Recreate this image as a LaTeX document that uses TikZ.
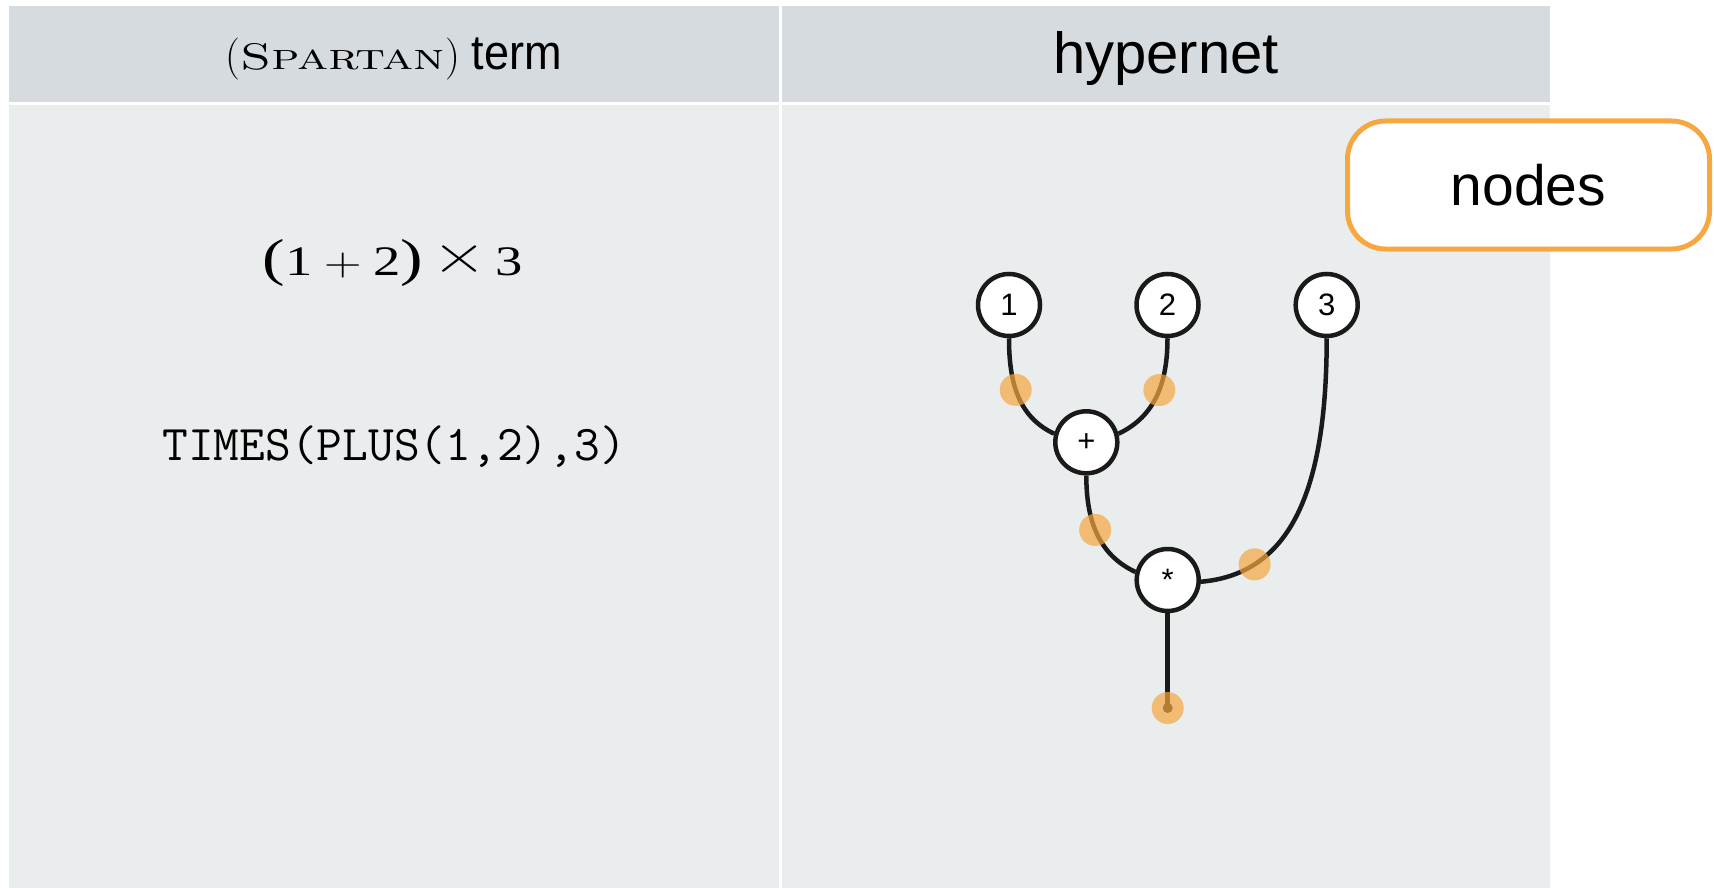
\documentclass[tikz,border=0pt]{standalone}
\usepackage{graphicx}
\usepackage{fontspec}
\newfontfamily\arial{Liberation Sans}
\newfontfamily\tnr{Liberation Serif}
\definecolor{hdr}{RGB}{214,219,223}
\definecolor{bdy}{RGB}{233,237,238}
\definecolor{org}{RGB}{247,167,64}
\definecolor{ink}{RGB}{26,26,26}
\newcommand\fsz[1]{\fontsize{#1}{#1}\selectfont}
\begin{document}
\begin{tikzpicture}[x=1pt,y=1pt,
  vnode/.style={circle, draw=ink, line width=4.5pt, fill=white, minimum size=62pt, inner sep=0pt, font=\arial\fsz{31}},
  wire/.style={draw=ink, line width=4.5pt},
  port/.style={circle, fill=org, fill opacity=0.7, minimum size=32pt, inner sep=0pt},
  basetext/.style={anchor=base, inner sep=0pt},
  tag/.style={draw=org, line width=5pt, fill=white, rounded corners=38pt, minimum width=362pt, minimum height=128pt, inner sep=0pt, font=\arial\fsz{57}}
]
\fill[white] (0,0) rectangle (1714,-888);
\useasboundingbox (0,0) rectangle (1714,-888);
% table
\fill[hdr] (9,-6) rectangle (779,-102);
\fill[hdr] (782,-6) rectangle (1550,-102);
\fill[bdy] (9,-105) rectangle (779,-888);
\fill[bdy] (782,-105) rectangle (1550,-888);
% headers
\node[basetext] (h1) at (394,-69.3) {{\fsz{42}(}\scalebox{1.38}[1]{\fsz{37}\textsc{Spartan}}{\fsz{42})}\hspace{12pt}\scalebox{0.92}[1]{\arial\fsz{49}term}};
\node[basetext] (h2) at (1166,-73.3) {\arial\fsz{58}hypernet};
% left column
\node[basetext] (expr) at (393,-275.7) {\scalebox{1.3}[1]{\tnr{\fsz{52}(}{\fsz{42}1}\hspace{9pt}{\rmfamily\fsz{40}+}\hspace{9pt}{\fsz{42}2}{\fsz{52})}\hspace{7pt}\raisebox{2pt}{\rmfamily\fsz{58}×}\hspace{7pt}{\fsz{42}3}}};
\node[basetext] (term) at (394,-460) {\ttfamily\fsz{50}TIMES(PLUS(1,2),3)};
% hypernet
\node[vnode] (n1) at (1009,-305) {1};
\node[vnode] (n2) at (1167.5,-305) {2};
\node[vnode] (n3) at (1326.7,-305) {3};
\node[vnode] (plus) at (1086.3,-442.3) {+};
\node[vnode] (star) at (1167.7,-580) {*};
\coordinate (tail) at (1167.7,-708);
\draw[wire] (n1.south) to[out=-90,in=155] node[port,pos=0.45] (p1) {} (plus.165);
\draw[wire] (n2.south) to[out=-90,in=25] node[port,pos=0.45] (p2) {} (plus.15);
\draw[wire] (plus.south) to[out=-90,in=155] node[port,pos=0.47] (p3) {} (star.166);
\draw[wire] (n3.south) to[out=-90,in=5,out looseness=1.5,in looseness=0.8] node[port,pos=0.76] (p4) {} (star.-3);
\draw[wire, line cap=round] (star.south) -- (tail);
\fill[ink] (tail) circle (5);
\node[port] (p5) at (tail) {};
% label
\node[tag] (lbl) at (1528.5,-185) {nodes};
\end{tikzpicture}
\end{document}
